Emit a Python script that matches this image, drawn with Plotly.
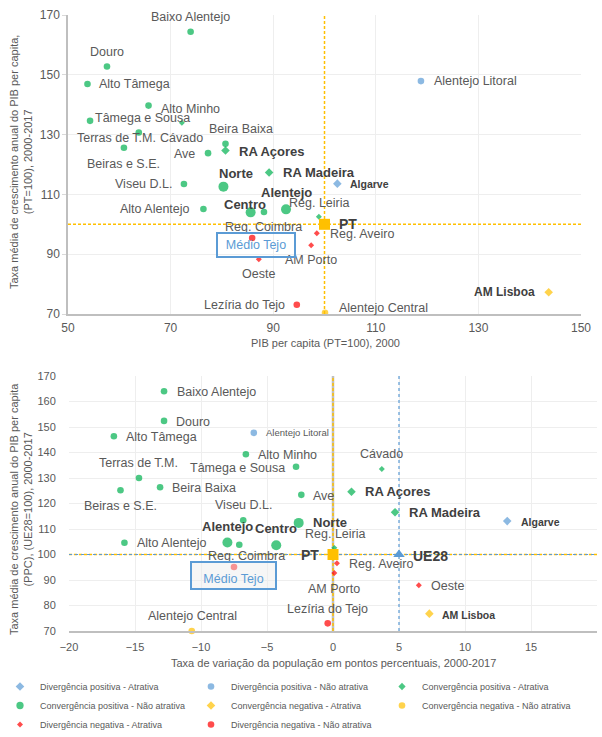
import plotly.graph_objects as go

# ---------------- DATA ----------------
names = ["Baixo Alentejo", "Douro", "Alto Tâmega", "Alto Minho", "Tâmega e Sousa",
         "Cávado", "Terras de T.M.", "Beiras e S.E.", "Beira Baixa", "RA Açores",
         "Ave", "RA Madeira", "Norte", "Viseu D.L.", "Alto Alentejo", "Centro",
         "Reg. Coimbra", "Alentejo", "Reg. Leiria", "Algarve", "Alentejo Litoral",
         "Reg. Aveiro", "AM Porto", "Médio Tejo", "Oeste", "Lezíria do Tejo",
         "Alentejo Central", "AM Lisboa"]
# PIB per capita (PT=100), 2000
pib_2000 = [73.9, 57.6, 53.8, 65.7, 54.3, 72.2, 63.8, 60.9, 80.7, 80.7,
            77.3, 89.2, 80.3, 72.6, 76.4, 85.6, 88.2, 92.5, 98.9, 102.5, 118.8,
            98.5, 97.4, 85.9, 87.2, 94.6, 100.1, 143.7]
# Taxa média de crescimento anual do PIB per capita (PT=100), 2000-2017
growth_pt = [164.4, 152.8, 146.9, 139.7, 134.6, 134.0, 130.7, 125.6, 126.9, 124.7,
             123.8, 117.3, 112.6, 113.5, 105.1, 104.0, 104.1, 105.0, 102.5, 113.6, 147.9,
             97.0, 93.0, 95.4, 88.3, 73.1, 70.4, 77.3]
# Taxa de variação da população (p.p.), 2000-2017
pop_change = [-12.8, -12.8, -16.6, -6.6, -2.8, 3.7, -14.7, -16.1, -13.1, 1.4,
              -2.4, 4.7, -2.6, -6.8, -15.8, -4.3, -7.1, -8.0, 0.1, 13.2, -6.0,
              0.3, 0.1, -7.5, 6.5, -0.4, -10.7, 7.3]
# Taxa média de crescimento anual do PIB per capita (PPC), (UE28=100), 2000-2017
growth_ue = [164.0, 152.4, 146.4, 139.3, 134.4, 133.5, 130.0, 125.2, 126.4, 124.6,
             123.4, 116.6, 112.4, 113.4, 104.6, 103.6, 103.8, 104.7, 102.6, 113.1, 147.7,
             96.6, 92.7, 95.1, 87.9, 73.0, 70.0, 76.8]
# category index (see categories) and NUTS level
region_cat = [3, 3, 3, 3, 3, 2, 3, 3, 3, 2,
              3, 2, 3, 3, 3, 3, 3, 3, 2, 0, 1,
              6, 6, 7, 6, 7, 5, 4]
nuts2 = ["RA Açores", "RA Madeira", "Norte", "Centro", "Alentejo", "Algarve", "AM Lisboa"]

categories = ["Divergência positiva - Atrativa", "Divergência positiva - Não atrativa",
              "Convergência positiva - Atrativa", "Convergência positiva - Não atrativa",
              "Convergência negativa - Atrativa", "Convergência negativa - Não atrativa",
              "Divergência negativa - Atrativa", "Divergência negativa - Não atrativa"]

pt_ref = {"pib": 100, "growth_pt": 100, "pop": 0, "growth_ue": 100}
ue_ref = {"pop": 5, "growth_ue": 100}

x1_ticks = [50, 70, 90, 110, 130, 150]
y1_ticks = [70, 90, 110, 130, 150, 170]
x2_ticks = [-20, -15, -10, -5, 0, 5, 10, 15, 20]
y2_ticks = [70, 80, 90, 100, 110, 120, 130, 140, 150, 160, 170]

# ---------------- STYLE ----------------
BLUE = "#5B9BD5"
GREEN = "#00B050"
YELLOW = "#FFC000"
RED = "#FF0000"
cat_color = [BLUE, BLUE, GREEN, GREEN, YELLOW, YELLOW, RED, RED]
cat_symbol = ["diamond", "circle"] * 4
TXT = "#595959"
BOLD_TXT = "#404040"
FONT = "Liberation Sans, Arial, sans-serif"

W, H = 602, 737


def msize(name, symbol):
    big = name in nuts2
    if symbol == "diamond":
        return 6.6 if big else 4.6
    return 10 if big else 6.6


# label placement: (xanchor, dx, dy[px, down positive])
lab_top = {
    "Baixo Alentejo": ("center", 0, -15), "Douro": ("center", 0, -14),
    "Alto Tâmega": ("left", 10, 0), "Alto Minho": ("left", 10, 3),
    "Tâmega e Sousa": ("left", 3, -3), "Cávado": ("center", 0, 15),
    "Terras de T.M.": ("right", 19, 5), "Beiras e S.E.": ("center", 0, 16),
    "Beira Baixa": ("center", 16, -15), "RA Açores": ("left", 12, 1),
    "Ave": ("right", -11, 1), "Norte": ("center", 13, -13),
    "RA Madeira": ("left", 12, 0), "Viseu D.L.": ("right", -10, 0),
    "Alto Alentejo": ("right", -11, 0), "Centro": ("center", -6, -8),
    "Alentejo": ("center", 0, -17), "Reg. Leiria": ("center", 0, -14),
    "Reg. Coimbra": ("center", 0, 15), "Reg. Aveiro": ("left", 11, 1),
    "AM Porto": ("center", 0, 15), "Oeste": ("center", 0, 15),
    "Lezíria do Tejo": ("right", -10, 0), "Alentejo Central": ("left", 12, -5),
    "Alentejo Litoral": ("left", 11, 0), "Algarve": ("left", 11, 0),
    "AM Lisboa": ("right", -12, 0),
}
lab_bot = {
    "Baixo Alentejo": ("left", 11, 1), "Douro": ("left", 10, 1),
    "Alto Tâmega": ("left", 10, 1), "Alentejo Litoral": ("left", 10, 0),
    "Alto Minho": ("left", 10, 1), "Tâmega e Sousa": ("right", -9, 1),
    "Terras de T.M.": ("center", 0, -15), "Beira Baixa": ("left", 10, 1),
    "Beiras e S.E.": ("center", 0, 16), "Viseu D.L.": ("center", 0, -15),
    "Ave": ("left", 10, 1), "Cávado": ("center", 0, -15),
    "RA Açores": ("left", 12, 0), "RA Madeira": ("left", 12, 0),
    "Algarve": ("left", 12, 1), "Norte": ("left", 12, 0),
    "Centro": ("center", 0, -17), "Alentejo": ("center", 0, -16),
    "Alto Alentejo": ("left", 11, 0), "Reg. Coimbra": ("center", 7, 11),
    "Reg. Leiria": ("center", 1, -14), "Reg. Aveiro": ("left", 10, 1),
    "AM Porto": ("center", 0, 16), "Lezíria do Tejo": ("center", 0, -14),
    "Oeste": ("left", 10, 1), "AM Lisboa": ("left", 11, 1),
    "Alentejo Central": ("center", 1, -15),
}
bold_size_top = {"RA Açores": 13, "RA Madeira": 13, "Norte": 13, "Centro": 13,
                 "Alentejo": 13, "Algarve": 10.5, "AM Lisboa": 12}
bold_size_bot = {"RA Açores": 13, "RA Madeira": 13, "Norte": 13, "Centro": 13,
                 "Alentejo": 13, "Algarve": 10.5, "AM Lisboa": 10.5}
small_bot = {"Alentejo Litoral": 9.5}

fig = go.Figure()

# ---------------- TRACES ----------------
for ci, cat in enumerate(categories):
    idx = [i for i, c in enumerate(region_cat) if c == ci]
    sym = cat_symbol[ci]
    sizes = [msize(names[i], sym) for i in idx]
    fig.add_trace(go.Scatter(
        x=[pib_2000[i] for i in idx], y=[growth_pt[i] for i in idx],
        mode="markers", name=cat, legendgroup=cat, showlegend=True, cliponaxis=False,
        marker=dict(color=cat_color[ci], symbol=sym, size=sizes, line=dict(width=0)),
        text=[names[i] for i in idx], hoverinfo="text",
        xaxis="x", yaxis="y"))
    fig.add_trace(go.Scatter(
        x=[pop_change[i] for i in idx], y=[growth_ue[i] for i in idx],
        mode="markers", name=cat, legendgroup=cat, showlegend=False, cliponaxis=False,
        marker=dict(color=cat_color[ci], symbol=sym, size=sizes, line=dict(width=0)),
        text=[names[i] for i in idx], hoverinfo="text",
        xaxis="x2", yaxis="y2"))

# PT & UE28 reference markers
fig.add_trace(go.Scatter(x=[pt_ref["pib"]], y=[pt_ref["growth_pt"]], mode="markers",
                         marker=dict(color=YELLOW, symbol="square", size=11),
                         showlegend=False, hoverinfo="skip", xaxis="x", yaxis="y"))
fig.add_trace(go.Scatter(x=[pt_ref["pop"]], y=[pt_ref["growth_ue"]], mode="markers",
                         marker=dict(color=YELLOW, symbol="square", size=11),
                         showlegend=False, hoverinfo="skip", xaxis="x2", yaxis="y2"))
fig.add_trace(go.Scatter(x=[ue_ref["pop"]], y=[ue_ref["growth_ue"]], mode="markers",
                         marker=dict(color=BLUE, symbol="triangle-up", size=10),
                         showlegend=False, hoverinfo="skip", xaxis="x2", yaxis="y2"))

# ---------------- REFERENCE LINES ----------------
YDASH = "3px,2px"
shapes = [
    dict(type="line", xref="x", yref="y", x0=pt_ref["pib"], x1=pt_ref["pib"],
         y0=y1_ticks[0], y1=y1_ticks[-1], line=dict(color=YELLOW, width=1.5, dash=YDASH), layer="between"),
    dict(type="line", xref="x", yref="y", x0=x1_ticks[0], x1=x1_ticks[-1],
         y0=pt_ref["growth_pt"], y1=pt_ref["growth_pt"], line=dict(color=YELLOW, width=1.5, dash=YDASH), layer="between"),
    dict(type="line", xref="x2", yref="y2", x0=pt_ref["pop"], x1=pt_ref["pop"],
         y0=y2_ticks[0], y1=y2_ticks[-1], line=dict(color="#BFBFBF", width=2.5), layer="between"),
    dict(type="line", xref="x2", yref="y2", x0=pt_ref["pop"], x1=pt_ref["pop"],
         y0=y2_ticks[0], y1=y2_ticks[-1], line=dict(color=YELLOW, width=1.5, dash=YDASH), layer="between"),
    dict(type="line", xref="x2", yref="y2", x0=x2_ticks[0], x1=x2_ticks[-1],
         y0=ue_ref["growth_ue"], y1=ue_ref["growth_ue"], line=dict(color=YELLOW, width=1.5, dash=YDASH), layer="between"),
    dict(type="line", xref="x2", yref="y2", x0=x2_ticks[0], x1=x2_ticks[-1],
         y0=ue_ref["growth_ue"], y1=ue_ref["growth_ue"], line=dict(color=BLUE, width=1.2, dash="dot"), layer="between"),
    dict(type="line", xref="x2", yref="y2", x0=ue_ref["pop"], x1=ue_ref["pop"],
         y0=y2_ticks[0], y1=y2_ticks[-1], line=dict(color=BLUE, width=1.2, dash="dot"), layer="between"),
]

# ---------------- LABELS ----------------
ann = []


def add_label(text, x, y, place, xr, yr, size=12.5, bold=False, color=TXT):
    anchor, dx, dy = place
    ann.append(dict(text=("<b>%s</b>" % text) if bold else text, x=x, y=y, xref=xr, yref=yr,
                    showarrow=False, xanchor=anchor, yanchor="middle", xshift=dx, yshift=-dy,
                    font=dict(family=FONT, size=size, color=BOLD_TXT if bold else color)))


for i, n in enumerate(names):
    if n in lab_top:
        b = n in bold_size_top
        add_label(n, pib_2000[i], growth_pt[i], lab_top[n], "x", "y",
                  size=bold_size_top.get(n, 12.5), bold=b)
    if n in lab_bot:
        b = n in bold_size_bot
        add_label(n, pop_change[i], growth_ue[i], lab_bot[n], "x2", "y2",
                  size=bold_size_bot.get(n, small_bot.get(n, 12.5)), bold=b)

add_label("PT", pt_ref["pib"], pt_ref["growth_pt"], ("left", 12, 0), "x", "y", size=14, bold=True)
add_label("PT", pt_ref["pop"], pt_ref["growth_ue"], ("right", -12, 0), "x2", "y2", size=14, bold=True)
add_label("UE28", ue_ref["pop"], ue_ref["growth_ue"], ("left", 12, 1), "x2", "y2", size=14, bold=True)

# Médio Tejo boxed labels
mt = names.index("Médio Tejo")
ann.append(dict(text="Médio Tejo", x=pib_2000[mt], y=growth_pt[mt], xref="x", yref="y",
                showarrow=False, xanchor="center", yanchor="middle", xshift=4, yshift=-7,
                width=72, height=18, borderpad=2, borderwidth=2, bordercolor=BLUE,
                bgcolor="rgba(255,255,255,0)", valign="middle",
                font=dict(family=FONT, size=12.5, color=BLUE)))
ann.append(dict(text="Médio Tejo", x=pop_change[mt], y=growth_ue[mt], xref="x2", yref="y2",
                showarrow=False, xanchor="center", yanchor="middle", xshift=-1, yshift=-8.6,
                width=79, height=21, borderpad=2, borderwidth=2, bordercolor=BLUE,
                bgcolor="rgba(235,235,235,0.45)", valign="bottom",
                font=dict(family=FONT, size=12.5, color=BLUE)))

# axis titles
ann += [
    dict(text="Taxa média de crescimento anual do PIB per capita,<br>(PT=100), 2000-2017",
         x=21 / W, y=1 - 162 / H, xref="paper", yref="paper", showarrow=False, textangle=-90,
         xanchor="center", yanchor="middle", font=dict(family=FONT, size=11, color=TXT)),
    dict(text="PIB per capita (PT=100), 2000", x=325 / W, y=1 - 343 / H, xref="paper", yref="paper",
         showarrow=False, xanchor="center", yanchor="middle", font=dict(family=FONT, size=11, color=TXT)),
    dict(text="Taxa média de crescimento anual do PIB per capita<br>(PPC), (UE28=100), 2000-2017",
         x=21 / W, y=1 - 509 / H, xref="paper", yref="paper", showarrow=False, textangle=-90,
         xanchor="center", yanchor="middle", font=dict(family=FONT, size=11, color=TXT)),
    dict(text="Taxa de variação da população em pontos percentuais, 2000-2017",
         x=333 / W, y=1 - 663 / H, xref="paper", yref="paper",
         showarrow=False, xanchor="center", yanchor="middle", font=dict(family=FONT, size=11, color=TXT)),
]

GRID = "#EEEEEE"
AX = "#BFBFBF"
fig.update_layout(
    width=W, height=H, margin=dict(l=0, r=0, t=0, b=0, autoexpand=False),
    paper_bgcolor="white", plot_bgcolor="white",
    font=dict(family=FONT, color=TXT),
    xaxis=dict(domain=[68 / W, 581 / W], range=[x1_ticks[0], x1_ticks[-1]], tickvals=x1_ticks,
               anchor="y", showgrid=True, gridcolor=GRID, zeroline=False, showline=True,
               linecolor=AX, linewidth=1.5, ticks="outside", ticklen=2, tickcolor="rgba(0,0,0,0)",
               tickfont=dict(size=12, color=TXT), automargin=False, fixedrange=True),
    yaxis=dict(domain=[1 - 314 / H, 1 - 15 / H], range=[y1_ticks[0], y1_ticks[-1]], tickvals=y1_ticks,
               anchor="x", showgrid=True, gridcolor=GRID, zeroline=False, showline=True,
               linecolor=AX, linewidth=1.5, ticks="outside", ticklen=4, tickcolor="#D9D9D9",
               tickfont=dict(size=12, color=TXT), automargin=False, fixedrange=True),
    xaxis2=dict(domain=[69 / W, 597 / W], range=[x2_ticks[0], x2_ticks[-1]], tickvals=x2_ticks,
                anchor="y2", showgrid=True, gridcolor=GRID, zeroline=False, showline=True,
                linecolor=AX, linewidth=2, ticks="outside", ticklen=5, tickcolor="rgba(0,0,0,0)",
                tickfont=dict(size=11, color=TXT), automargin=False, fixedrange=True),
    yaxis2=dict(domain=[1 - 631 / H, 1 - 376 / H], range=[y2_ticks[0], y2_ticks[-1]], tickvals=y2_ticks,
                anchor="x2", showgrid=True, gridcolor=GRID, zeroline=False, showline=False,
                ticks="outside", ticklen=10, tickcolor="rgba(0,0,0,0)",
                tickfont=dict(size=11, color=TXT), automargin=False, fixedrange=True),
    legend=dict(orientation="h", x=0.0, xanchor="left", y=1 - 672 / H, yanchor="top",
                entrywidth=146, entrywidthmode="pixels", itemwidth=30, tracegroupgap=0,
                font=dict(family=FONT, size=9, color=TXT), bgcolor="rgba(0,0,0,0)"),
    shapes=shapes, annotations=ann, showlegend=True,
)

fig.write_html("out.html", config={"displayModeBar": False},
               post_script="document.body.style.margin='0';document.body.style.overflow='hidden';")
